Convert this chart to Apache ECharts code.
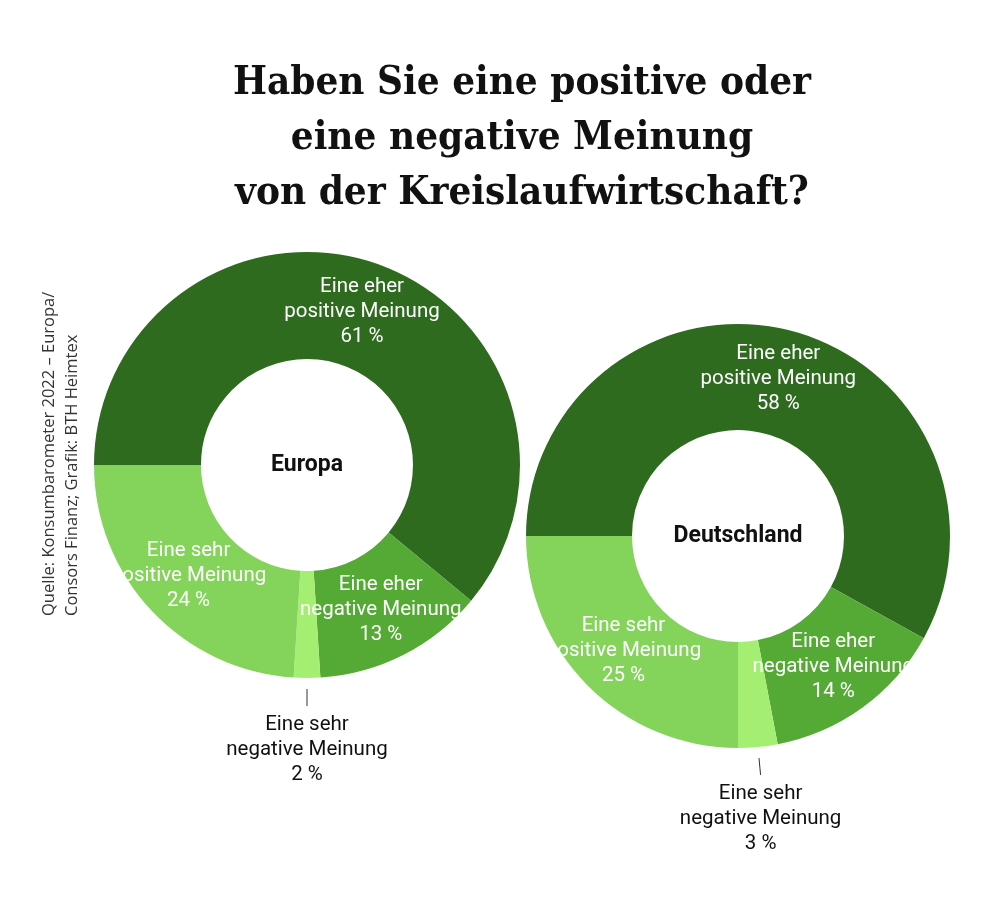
<!DOCTYPE html>
<html>
<head>
<meta charset="utf-8">
<script src="https://cdn.jsdelivr.net/npm/echarts@6/dist/echarts.min.js"></script>
<style>
html,body{margin:0;padding:0;background:#fff;}
#chart{width:1000px;height:907px;}
</style>
</head>
<body>
<div id="chart"></div>
<script>
const categories = ['Eine eher\npositive Meinung', 'Eine eher\nnegative Meinung', 'Eine sehr\nnegative Meinung', 'Eine sehr\npositive Meinung'];
const europaValues = [61, 13, 2, 24];
const deutschlandValues = [58, 14, 3, 25];
const sliceColors = ['#2e6b1f', '#55aa35', '#a4ef72', '#84d35a'];
const titleText = 'Haben Sie eine positive oder\neine negative Meinung\nvon der Kreislaufwirtschaft?';
const sourceText = 'Quelle: Konsumbarometer 2022 – Europa/\nConsors Finanz; Grafik: BTH Heimtex';

const labelFont = '"Arial Narrow", "Liberation Sans Narrow", Roboto, sans-serif';

function buildData(values) {
  return values.map((v, i) => {
    const item = { name: categories[i], value: v, itemStyle: { color: sliceColors[i] } };
    if (i === 2) {
      item.label = { position: 'outside', color: '#111' };
      item.labelLine = { show: true, length: 16, length2: 0, lineStyle: { color: '#333', width: 1 } };
    }
    return item;
  });
}

function outsideLayout(params) {
  if (params.dataIndex !== 2 || !params.labelLinePoints) return {};
  const p0 = params.labelLinePoints[0];
  const p1 = params.labelLinePoints[1];
  let dx = p1[0] - p0[0], dy = p1[1] - p0[1];
  const len = Math.sqrt(dx * dx + dy * dy) || 1;
  dx /= len; dy /= len;
  const a = [p0[0] + dx * 11, p0[1] + dy * 11];
  const b = [p0[0] + dx * 28, p0[1] + dy * 28];
  return {
    x: b[0],
    y: b[1] + 6,
    align: 'center',
    verticalAlign: 'top',
    labelLinePoints: [a, b, b]
  };
}

function makeSeries(values, center, radius) {
  return {
    type: 'pie',
    center: center,
    radius: radius,
    startAngle: 180,
    clockwise: true,
    avoidLabelOverlap: false,
    silent: true,
    label: {
      show: true,
      position: 'inside',
      color: '#fff',
      fontFamily: labelFont,
      fontSize: 20.5,
      lineHeight: 25,
      align: 'center',
      formatter: p => p.name + '\n' + p.value + ' %'
    },
    labelLine: { show: false },
    labelLayout: outsideLayout,
    data: buildData(values)
  };
}

const chart = echarts.init(document.getElementById('chart'), null, { renderer: 'canvas' });
chart.setOption({
  animation: false,
  backgroundColor: '#fff',
  series: [
    makeSeries(europaValues, [307, 465], [106, 213]),
    makeSeries(deutschlandValues, [738, 536], [106, 212])
  ],
  graphic: [
    {
      type: 'text', x: 522, y: 56,
      style: {
        text: titleText,
        font: 'bold 40px "DejaVu Serif Condensed", serif',
        fill: '#111', textAlign: 'center', textVerticalAlign: 'top', lineHeight: 55
      }
    },
    {
      type: 'text', x: 38, y: 616, rotation: Math.PI / 2,
      style: {
        text: sourceText,
        font: '16.5px "Open Sans", "Noto Sans", sans-serif',
        fill: '#333', textAlign: 'left', textVerticalAlign: 'top', lineHeight: 23
      }
    },
    {
      type: 'text', x: 307, y: 465,
      style: { text: 'Europa', font: 'bold 23px ' + labelFont, fill: '#111', textAlign: 'center', textVerticalAlign: 'middle' }
    },
    {
      type: 'text', x: 738, y: 536,
      style: { text: 'Deutschland', font: 'bold 23px ' + labelFont, fill: '#111', textAlign: 'center', textVerticalAlign: 'middle' }
    }
  ]
});
</script>
</body>
</html>
